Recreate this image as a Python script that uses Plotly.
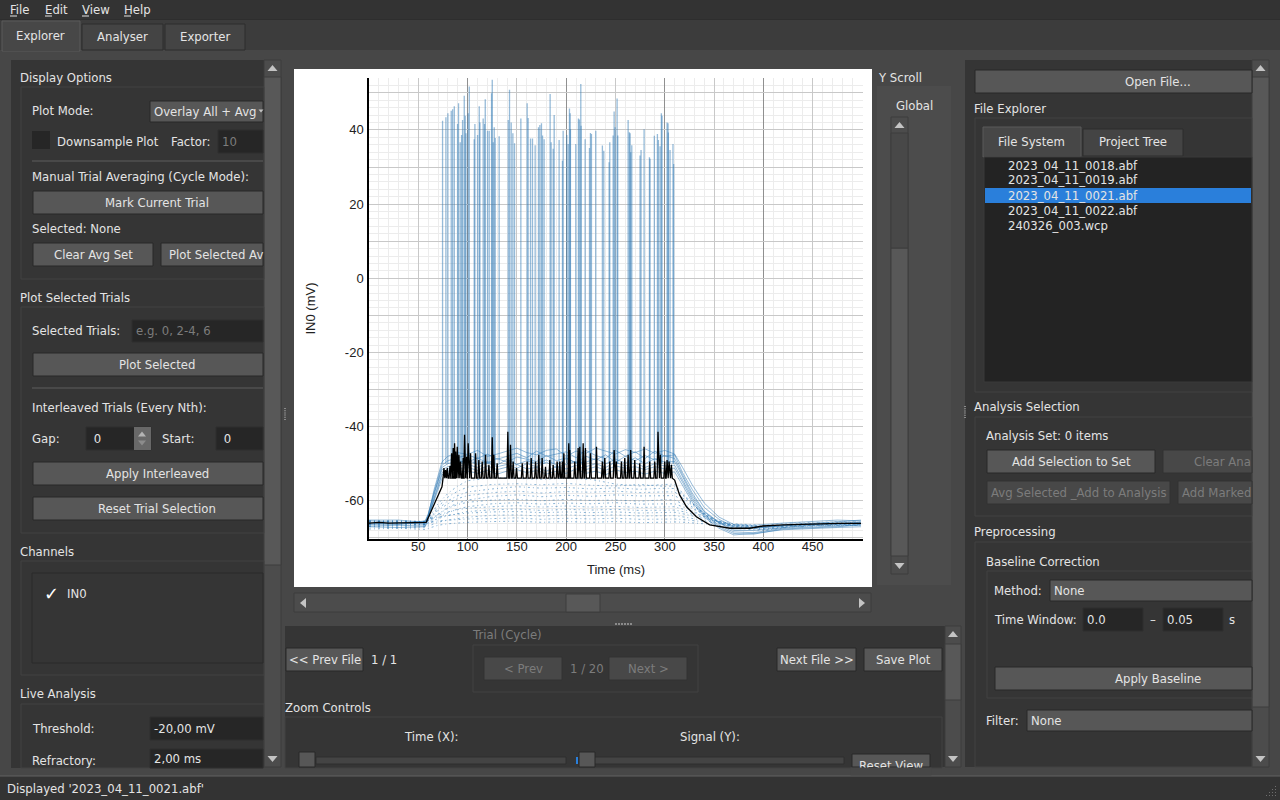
"""
    Electrophysiology explorer window: overlay of 20 trials plus average, inside its dark GUI frame.
"""
##########==========##########==========##########==========##########==========##########==========
## header

import plotly.graph_objects as go

##########==========##########==========##########==========##########==========##########==========
## chart values

x_range = [0, 501]
y_range = [-70.3, 54]
x_ticks = [50, 100, 150, 200, 250, 300, 350, 400, 450]
y_ticks = [-60, -40, -20, 0, 20, 40]
y_tick_text = ['-60', '-40', '-20', '0', '20', '40']

## knots for the trials that stay under threshold
sub_ms = [0, 30, 57, 60, 70, 80, 90, 100, 125, 150, 175, 200, 225, 250, 275, 300, 310, 320, 335, 350, 370, 400, 430, 460, 499]
trial_08 = [-65.5, -65.7, -65.6, -65, -60.8, -58, -56, -54.6, -53.7, -54, -54.2, -53.9, -54.2, -55.5, -56, -55.6, -55.5, -58.5, -62.5, -65.6, -67.3, -67.2, -66.4, -66.2, -65.8]
trial_09 = [-66, -65.9, -66, -65.4, -61.6, -59, -57.4, -56.3, -55.6, -55.4, -55.7, -55.3, -55.8, -56, -55.6, -56.1, -56, -58.8, -62.6, -65.2, -67, -67.6, -66.7, -66.4, -66.1]
trial_10 = [-66.3, -66.1, -66.2, -65.6, -62.2, -60, -58.6, -57.6, -56.8, -56.2, -56.6, -56.4, -56.8, -56.5, -56.9, -56.6, -56.7, -59, -62.4, -65, -67.2, -67.8, -66.9, -66.6, -66.3]
trial_11 = [-65.4, -65.6, -65.7, -65.3, -62.6, -60.8, -59.4, -58.6, -57.8, -57.4, -57.9, -57.5, -57.7, -57.4, -57.8, -57.6, -57.6, -59.6, -62.6, -64.9, -66.6, -67.2, -66.2, -65.9, -65.6]
trial_12 = [-66.6, -66.7, -66.5, -66, -63.6, -61.8, -60.6, -59.8, -58.8, -58.4, -58.9, -58.5, -58.8, -58.4, -58.7, -58.5, -58.6, -60.2, -63, -65.3, -67.4, -68, -67, -66.7, -66.5]
trial_13 = [-65.8, -65.6, -65.9, -65.4, -63.6, -62, -61, -60.4, -59.8, -59.6, -60, -59.6, -59.9, -59.8, -60.1, -59.7, -59.8, -61, -63, -65, -66.8, -67.4, -66.6, -66.2, -66]
trial_14 = [-66.9, -67, -66.8, -66.4, -64.6, -63.2, -62.2, -61.6, -60.8, -60.5, -60.9, -60.6, -60.8, -60.5, -60.9, -60.7, -60.8, -61.8, -63.6, -65.4, -67, -67.6, -67, -66.7, -66.6]
trial_15 = [-65.6, -65.9, -65.5, -65.2, -63.9, -63, -62.4, -62, -61.6, -61.3, -61.7, -61.4, -61.7, -61.5, -61.8, -61.6, -61.6, -62.4, -63.8, -65.2, -66.4, -67, -66.3, -66, -65.8]
trial_16 = [-66.1, -66.3, -66.4, -66, -64.8, -64, -63.4, -62.9, -62.4, -62.2, -62.6, -62.3, -62.5, -62.3, -62.6, -62.4, -62.5, -63, -64.2, -65.4, -66.6, -67.2, -66.5, -66.3, -66.1]
trial_17 = [-65.5, -65.3, -65.6, -65.3, -64.4, -63.9, -63.5, -63.3, -63, -62.9, -63.2, -63, -63.2, -63, -63.3, -63.1, -63.1, -63.6, -64.4, -65.4, -66.2, -66.6, -66, -65.7, -65.5]
trial_18 = [-67, -67.3, -67.1, -66.8, -65.8, -65.2, -64.8, -64.4, -63.9, -63.8, -64.1, -63.8, -64, -63.8, -64.1, -63.9, -64, -64.4, -65, -65.8, -66.6, -67, -66.6, -66.4, -66.2]
trial_19 = [-66.4, -66.5, -66.3, -66, -65.4, -65.2, -65, -64.9, -64.8, -64.6, -65, -64.7, -64.9, -64.7, -65, -64.8, -64.9, -65.1, -65.5, -66, -66.5, -66.8, -66.4, -66.1, -66]
trial_20 = [-67.6, -67.4, -67.7, -67.4, -66.6, -66.2, -66, -65.8, -65.6, -65.5, -65.8, -65.6, -65.8, -65.6, -65.9, -65.7, -65.7, -65.8, -66, -66.4, -66.8, -67, -66.8, -66.6, -66.4]
sub_trials = [trial_08, trial_09, trial_10, trial_11, trial_12, trial_13, trial_14, trial_15, trial_16, trial_17, trial_18, trial_19, trial_20]

## knots for the spiking trials, spikes are kept apart below
spk_ms = [0, 30, 57, 60, 66, 74, 80, 90, 100, 110, 120, 130, 140, 150, 160, 170, 180, 190, 200, 210, 220, 230, 240, 250, 260, 270, 280, 290, 300, 310, 318, 328, 340, 355, 370, 390, 420, 450, 475, 499]
trial_01 = [-66.4, -66.2, -66.1, -64, -57, -49.5, -48, -47, -47.5, -46.4, -48, -47.4, -46.6, -45.8, -47, -47.6, -46.4, -46, -48, -46.6, -47.2, -45.8, -46.6, -47.4, -46.2, -47, -46, -47.2, -46.4, -47.4, -51, -55.8, -60.6, -64.4, -66.4, -66.6, -66, -65.6, -65.2, -65.4]
trial_02 = [-65.4, -65.8, -65.6, -63.8, -57.6, -50.4, -49.2, -48.4, -47.6, -48.6, -47.4, -48.8, -48, -47.2, -48.4, -46.6, -48, -47.4, -46.8, -48.4, -46.4, -47.8, -48.6, -46.4, -48, -46.8, -48.6, -46.6, -48, -47.6, -52.4, -57, -61.8, -65, -67, -67.2, -66.6, -66, -65.6, -65.2]
trial_03 = [-66.8, -66.6, -66.8, -64.8, -58.4, -51, -50, -49.2, -49.6, -48.4, -49.8, -48.6, -49.6, -48.2, -48.8, -49.4, -47.8, -49.2, -48.4, -49.8, -48, -49, -47.6, -49.6, -48, -49.2, -47.8, -49, -47.8, -48.6, -53, -58, -62.8, -65.8, -67.6, -67.4, -66.8, -66.4, -66.2, -65.8]
trial_04 = [-65.9, -66.4, -65.4, -63.6, -58, -51.6, -50.8, -50, -49, -50.2, -49.4, -50.4, -48.8, -50.2, -49.2, -50, -49, -50.4, -48.6, -49.8, -49.6, -48.6, -50, -48.8, -49.8, -48.4, -50, -48.6, -49.6, -49.4, -53.6, -58.6, -63, -66, -68, -68, -67.2, -66.6, -66.4, -66.2]
trial_05 = [-67, -67.2, -67, -65, -59.2, -52.4, -51.4, -50.6, -50.2, -51, -49.8, -50.8, -50.2, -51.2, -50, -50.8, -49.6, -51, -50.2, -49.4, -50.8, -50, -51, -49.6, -50.6, -49.8, -51, -50, -50.6, -50.4, -54.4, -59.2, -63.6, -66.6, -68.4, -68.6, -67.4, -67, -66.8, -66.6]
trial_06 = [-66.2, -65.9, -66.4, -64.2, -59.6, -53, -52, -51.4, -51, -51.8, -50.6, -51.6, -51, -50.2, -51.4, -51, -52, -50.8, -51.4, -50.4, -51.6, -50.8, -51.8, -50.6, -51.2, -50.8, -51.6, -50.8, -51.4, -51.2, -55, -59.8, -64, -67, -68.8, -69, -67.6, -67.2, -67, -66.4]
trial_07 = [-65.2, -65.2, -65.8, -64.4, -60, -54, -52.6, -52.4, -52, -52.6, -51.8, -52.8, -52, -51.6, -52.4, -51.8, -52.8, -52, -52.6, -51.4, -52.6, -52, -53, -51.6, -52.4, -52, -52.8, -52, -52.6, -52.2, -56, -60.4, -64.4, -67.4, -69.2, -68.8, -67.8, -67.4, -67.2, -67]
spk_trials = [trial_01, trial_02, trial_03, trial_04, trial_05, trial_06, trial_07]

## spike times and peak voltages
spike_ms = [74.6, 78.0, 80.0, 83.4, 84.8, 86.5, 89.8, 90.8, 92.5, 93.9, 94.9, 96.6, 97.6, 98.3, 100.6, 101.7, 106.7, 107.4, 110.1, 111.8, 112.5, 115.8, 117.2, 117.9, 120.2, 121.9, 124.3, 125.0, 126.0, 127.0, 128.0, 132.0, 141.2, 142.5, 144.2, 145.9, 147.6, 154.0, 160.4, 161.4, 163.8, 165.8, 168.5, 171.9, 173.3, 174.9, 176.0, 177.6, 183.7, 184.7, 186.8, 187.8, 192.8, 196.2, 196.9, 200.6, 202.0, 203.3, 204.0, 204.3, 209.7, 212.4, 213.4, 214.8, 215.1, 219.2, 223.6, 224.6, 225.6, 230.0, 236.7, 238.1, 243.5, 244.2, 247.6, 248.6, 249.6, 251.6, 252.3, 262.8, 264.1, 264.8, 265.4, 266.5, 274.9, 275.9, 279.0, 284.4, 285.0, 289.4, 292.5, 293.5, 295.2, 296.5, 297.2, 302.3, 303.3, 303.6, 305.3, 308.3, 309.0]
spike_mv = [42.5, 43.4, 44.5, 45.2, 45.6, 46.4, 41.6, 47.2, 36.7, 38.6, 42.7, 49.2, 43.8, 39.1, 44.5, 51.7, 37.5, 41.6, 38.6, 46.4, 42.0, 43.1, 41.6, 48.3, 39.8, 39.8, 49.9, 53.5, 36.7, 40.7, 37.8, 38.3, 42.7, 50.8, 42.0, 39.1, 36.4, 43.1, 47.2, 43.2, 37.7, 37.7, 35.9, 40.7, 41.3, 41.8, 38.5, 37.5, 49.7, 36.7, 34.9, 44.0, 37.3, 31.7, 39.8, 38.6, 36.2, 45.8, 44.5, 40.2, 36.2, 43.1, 42.8, 52.4, 41.1, 37.5, 35.1, 39.2, 38.9, 39.8, 35.8, 34.4, 31.3, 36.7, 38.5, 45.0, 40.7, 48.5, 38.5, 42.7, 39.4, 39.1, 34.0, 35.9, 33.1, 34.6, 40.2, 32.6, 32.2, 38.4, 38.9, 37.3, 35.6, 44.5, 43.8, 42.0, 41.8, 39.3, 34.6, 36.2, 30.8]
spike_foot_mv = -50

## average trace: onset, bumps on the floor, offset
avg_rise_ms = [0, 10, 20, 30, 40, 50, 58, 62, 66, 70, 74]
avg_rise_mv = [-66, -65.8, -66, -65.9, -66, -65.9, -65.8, -63.4, -61, -58.8, -56.2]
avg_peak_ms = [76.0, 77.7, 79.4, 82.1, 83.8, 85.4, 86.8, 87.8, 89.5, 91.2, 92.9, 95.6, 96.9, 99, 100.6, 103, 108.1, 111.4, 114.8, 118.2, 121.6, 125, 126.6, 130, 140.8, 143.5, 146.2, 149.6, 155.4, 160.4, 164.5, 168.9, 172.2, 175.6, 179, 183.4, 186.8, 190.8, 193.5, 196.2, 197.6, 202.6, 203.6, 208.7, 212.1, 213.8, 217.2, 219.5, 224.6, 230.7, 236.7, 239.1, 244.2, 248.6, 250.9, 256, 259.4, 262.8, 265.4, 269.5, 274.6, 279, 284.7, 289.8, 293.1, 295.5, 299.9, 302.3, 304.3, 306.7]
avg_peak_mv = [-51.2, -51.7, -51.2, -50.6, -47.2, -45.8, -44.5, -46.7, -45.4, -47.6, -49.4, -48.5, -42.2, -48.1, -44.5, -47.2, -47.2, -49, -49.4, -47.6, -50.3, -42.9, -47.6, -49.9, -41.4, -44.9, -49.4, -51.2, -49.9, -49.4, -48.5, -49.4, -47.6, -48.5, -50.8, -49, -50.3, -49.4, -49.4, -49.4, -47.2, -44.5, -46.3, -49.4, -45.8, -45.4, -44.5, -45.8, -47.2, -45.4, -49.4, -48.5, -49.4, -46.3, -49.4, -49.4, -48.5, -47.6, -46.3, -49, -49.9, -45.4, -49.4, -49.4, -41.4, -47.6, -49.4, -49, -49.4, -50.3]
avg_floor_mv = -53.9
avg_fall_ms = [310, 315, 322, 332, 345.5, 366, 386, 399.5, 420, 443, 477, 499]
avg_fall_mv = [-54.4, -58.4, -61.6, -64.3, -66.5, -67.4, -67.4, -66.8, -66.5, -66.3, -66.1, -66.1]

##########==========##########==========##########==========##########==========##########==========
## gui parameters

W, H = 1280, 800
UI_FONT = 'DejaVu Sans'
PLOT_FONT = 'Liberation Sans'
TXT = '#e4e4e4'
DIM = '#7c7c7c'
BG = '#474747'
PANEL = '#353535'
BTN = '#575757'
BTN_OFF = '#484848'
EDGE = '#2b2b2b'
BOX = '#424242'
FIELD = '#262626'
SCROLL = '#585858'
TROUGH = '#4c4c4c'
SUB_TRACE = 'rgba(45,120,180,0.55)'
SPK_TRACE = 'rgba(45,120,180,0.5)'

shapes = []
labels = []


def rect(x0, y0, x1, y1, fill, line = None, width = 1):
    shapes.append(dict(
        type = 'rect', xref = 'paper', yref = 'paper', layer = 'below',
        x0 = x0 / W, x1 = x1 / W, y0 = 1 - y0 / H, y1 = 1 - y1 / H,
        fillcolor = fill, line = dict(color = line if line else fill, width = width if line else 0)
    ))


def hline(x0, x1, y, color, width = 1):
    shapes.append(dict(
        type = 'line', xref = 'paper', yref = 'paper', layer = 'below',
        x0 = x0 / W, x1 = x1 / W, y0 = 1 - y / H, y1 = 1 - y / H,
        line = dict(color = color, width = width)
    ))


def tri(x, y, size, color, direction):
    ## small scroll arrow drawn as a path in paper units
    a, b = size / W, size / H
    cx, cy = x / W, 1 - y / H
    points = dict(
        up = [(cx - a, cy - b * 0.6), (cx + a, cy - b * 0.6), (cx, cy + b * 0.6)],
        down = [(cx - a, cy + b * 0.6), (cx + a, cy + b * 0.6), (cx, cy - b * 0.6)],
        left = [(cx + a * 0.6, cy - b), (cx + a * 0.6, cy + b), (cx - a * 0.6, cy)],
        right = [(cx - a * 0.6, cy - b), (cx - a * 0.6, cy + b), (cx + a * 0.6, cy)]
    )[direction]
    path = 'M' + ' L'.join(f'{p[0]:.5f},{p[1]:.5f}' for p in points) + ' Z'
    shapes.append(dict(
        type = 'path', xref = 'paper', yref = 'paper', layer = 'below', path = path,
        fillcolor = color, line = dict(width = 0)
    ))


def text(x, y, s, color = TXT, anchor = 'left', size = 11.7, font = UI_FONT):
    labels.append(dict(
        x = x / W, y = 1 - (y + 0.5) / H, xref = 'paper', yref = 'paper', text = s, showarrow = False,
        xanchor = anchor, yanchor = 'middle', align = anchor,
        font = dict(family = font, size = size, color = color), borderpad = 0, borderwidth = 0
    ))


def button(x0, y0, x1, y1, s, enabled = True, tx = None, cx = None):
    rect(x0, y0, x1, y1, BTN if enabled else BTN_OFF, '#292929' if enabled else '#333333')
    color = TXT if enabled else DIM
    if tx is None:
        text(cx if cx else (x0 + x1) / 2, (y0 + y1) / 2, s, color, 'center')
    else:
        text(tx, (y0 + y1) / 2, s, color)


def field(x0, y0, x1, y1, s, color = TXT):
    rect(x0, y0, x1, y1, FIELD, '#2e2e2e')
    text(x0 + 4, (y0 + y1) / 2, s, color)


def combo(x0, y0, x1, y1, s):
    rect(x0, y0, x1, y1, BTN, '#292929')
    text(x0 + 4, (y0 + y1) / 2 - 0.5, s)


def vscroll(x0, x1, y0, y1, thumb0, thumb1):
    rect(x0, y0, x1, y1, TROUGH, '#3c3c3c')
    rect(x0, thumb0, x1, thumb1, SCROLL, '#3c3c3c')
    tri((x0 + x1) / 2, y0 + 8, 5, '#c4c4c4', 'up')
    tri((x0 + x1) / 2, y1 - 8, 5, '#c4c4c4', 'down')


##########==========##########==========##########==========##########==========##########==========
## window frame

rect(0, 0, W, 20, '#333333')
hline(0, W, 20, '#2a2a2a')
rect(0, 20, W, 50, '#3c3c3c')
rect(0, 50, W, 776, BG)
rect(0, 776, W, H, '#333333')
hline(0, W, 776, '#626262')
for x, s in [(10, 'File'), (45, 'Edit'), (82, 'View'), (124, 'Help')]:
    text(x, 9.5, s)
    hline(x, x + 7, 16, TXT)
rect(2, 21, 80, 51, BG, '#5a5a5a')
rect(82, 24, 163, 50, '#444444', '#2c2c2c')
rect(165, 24, 245, 50, '#444444', '#2c2c2c')
hline(3, 79, 50, BG, 2)
text(40, 35, 'Explorer', anchor = 'center')
text(122, 36, 'Analyser', anchor = 'center')
text(205, 36, 'Exporter', anchor = 'center')
text(7, 788.5, "Displayed '2023_04_11_0021.abf'")
for i in range(4):
    for j in range(i + 1):
        rect(1276 - j * 3 - 1, 796 - (3 - i) * 3 - 1, 1276 - j * 3, 796 - (3 - i) * 3, '#6e6e6e')

##########==========##########==========##########==========##########==========##########==========
## left panel

rect(11, 60, 264, 768, PANEL)
vscroll(264, 281, 60, 767, 77, 565)

text(20, 77, 'Display Options')
rect(21, 87, 264, 279, PANEL, BOX)
text(32, 110, 'Plot Mode:')
combo(150, 101, 263, 122, 'Overlay All + Avg')
tri(261, 111, 2.5, '#c4c4c4', 'down')
rect(32, 131, 50, 149, '#262626')
text(57, 141, 'Downsample Plot')
text(171, 142, 'Factor:')
field(218, 130, 263, 153, '10', DIM)
hline(32, 263, 161, '#5e5e5e')
text(32, 176.5, 'Manual Trial Averaging (Cycle Mode):')
button(33, 191, 263, 214, 'Mark Current Trial', cx = 157)
text(32, 228, 'Selected: None')
button(33, 243, 153, 266, 'Clear Avg Set')
button(161, 243, 263, 266, 'Plot Selected Av', tx = 169)

text(20, 297.5, 'Plot Selected Trials')
rect(21, 307, 264, 533, PANEL, BOX)
text(32, 331, 'Selected Trials:')
field(132, 320, 263, 342, 'e.g. 0, 2-4, 6', DIM)
button(33, 353, 263, 376, 'Plot Selected', cx = 157)
hline(32, 263, 388, '#5e5e5e')
text(32, 407.5, 'Interleaved Trials (Every Nth):')
text(32, 439, 'Gap:')
field(86, 427, 151, 450, ' 0')
rect(134, 427, 151, 450, '#686868')
tri(142, 434, 4, '#b4b4b4', 'up')
tri(142, 443, 4, '#8c8c8c', 'down')
text(162, 439, 'Start:')
field(216, 427, 263, 450, ' 0')
button(33, 462, 263, 485, 'Apply Interleaved', cx = 157)
button(33, 497, 263, 520, 'Reset Trial Selection', cx = 157)

text(20, 551, 'Channels')
rect(21, 561, 264, 675, PANEL, BOX)
rect(32, 573, 263, 663, PANEL, '#2b2b2b')
text(51, 593, '<b>\u2713</b>', '#ffffff', 'center', 18)
text(67, 593.5, 'IN0')

text(20, 693, 'Live Analysis')
rect(21, 704, 264, 768, PANEL, BOX)
text(32, 728.5, 'Threshold:')
field(150, 717, 263, 740, '-20,00 mV')
text(32, 760.5, 'Refractory:')
field(150, 749, 263, 768, '2,00 ms')
for k in range(6):
    rect(284, 408 + k * 2.2, 286, 409 + k * 2.2, '#8a8a8a')

##########==========##########==========##########==========##########==========##########==========
## centre panel

rect(294, 69, 872, 587, '#ffffff')

rect(294, 593, 871, 612, TROUGH, '#3c3c3c')
rect(566, 594, 600, 612, SCROLL, '#3c3c3c')
tri(303, 603, 5, '#c4c4c4', 'left')
tri(862, 603, 5, '#c4c4c4', 'right')

text(878, 77, 'Y Scroll')
rect(877, 86, 951, 585, '#4c4c4c')
text(896, 106, 'Global')
vscroll(891, 908, 117, 574, 248, 556)
rect(891, 133, 908, 248, '#484848', '#3c3c3c')

for k in range(6):
    rect(615 + k * 3, 623, 617 + k * 3, 625, '#8a8a8a')

rect(285, 626, 945, 767, PANEL)
vscroll(945, 961, 626, 767, 644, 700)
button(286, 648, 363, 671, '<< Prev File')
text(371, 659.5, '1 / 1')
text(472, 634, 'Trial (Cycle)', DIM)
rect(473, 645, 698, 692, PANEL, BOX)
button(484, 657, 562, 680, '< Prev', enabled = False)
text(570, 668.5, '1 / 20', DIM)
button(609, 657, 687, 680, 'Next >', enabled = False)
button(777, 648, 856, 671, 'Next File >>')
button(864, 648, 942, 671, 'Save Plot')
text(285, 707, 'Zoom Controls')
rect(285, 717, 942, 768, PANEL, BOX)
text(431, 736, 'Time (X):', anchor = 'center')
text(710, 736, 'Signal (Y):', anchor = 'center')
rect(316, 757, 566, 764, '#444444', '#2e2e2e')
rect(590, 757, 844, 764, '#444444', '#2e2e2e')
rect(576, 757, 578, 764, '#2a7fdb')
rect(299, 752, 315, 767, BTN, '#292929')
rect(579, 752, 595, 767, BTN, '#292929')
rect(852, 754, 930, 767, BTN, '#292929')
text(891, 765, 'Reset View', anchor = 'center')
## cover that clips the lower edge of the button caption at the frame
labels.append(dict(
    x = 891 / W, y = 1 - 771.5 / H, xref = 'paper', yref = 'paper', text = ' ', showarrow = False,
    width = 80, height = 7, bgcolor = BG, borderpad = 0, xanchor = 'center', yanchor = 'middle'
))

##########==========##########==========##########==========##########==========##########==========
## right panel

rect(965, 60, 1252, 767, PANEL)
vscroll(1252, 1269, 60, 767, 77, 707)
for k in range(6):
    rect(964, 406 + k * 2.2, 966, 407 + k * 2.2, '#8a8a8a')

button(975, 70, 1252, 93, 'Open File...', tx = 1125)
text(974, 108, 'File Explorer')
rect(975, 118, 1252, 392, PANEL, BOX)
rect(983, 127, 1081, 157, BG, '#5a5a5a')
rect(1083, 129, 1183, 156, '#444444', '#2c2c2c')
text(1031, 141, 'File System', anchor = 'center')
text(1133, 142, 'Project Tree', anchor = 'center')
rect(984, 157, 1252, 382, '#232323', '#3a3a3a')
rect(985, 188, 1251, 203, '#2a7fdb')
file_names = ['2023_04_11_0018.abf', '2023_04_11_0019.abf', '2023_04_11_0021.abf', '2023_04_11_0022.abf', '240326_003.wcp']
for k, s in enumerate(file_names):
    text(1008, 165 + k * 15, s)

text(974, 406, 'Analysis Selection')
rect(975, 417, 1252, 516, PANEL, BOX)
text(986, 435, 'Analysis Set: 0 items')
button(987, 450, 1155, 473, 'Add Selection to Set')
button(1163, 450, 1252, 473, 'Clear Ana', enabled = False, tx = 1194)
button(987, 481, 1170, 504, 'Avg Selected _Add to Analysis', enabled = False)
button(1178, 481, 1252, 504, 'Add Marked', enabled = False, tx = 1182)

text(974, 531, 'Preprocessing')
rect(975, 542, 1252, 767, PANEL, BOX)
text(986, 561, 'Baseline Correction')
rect(987, 571, 1252, 698, PANEL, BOX)
text(994, 590.5, 'Method:')
combo(1050, 580, 1252, 601, 'None')
text(994, 619, 'Time Window:')
field(1083, 608, 1143, 631, '0.0')
text(1150, 619, '\u2013')
field(1163, 608, 1223, 631, '0.05')
text(1229, 619, 's')
button(995, 667, 1252, 690, 'Apply Baseline', tx = 1115)
text(986, 720.5, 'Filter:')
combo(1027, 710, 1252, 731, 'None')

##########==========##########==========##########==========##########==========##########==========
## traces

fig = go.Figure()

for trial in sub_trials:
    fig.add_trace(go.Scatter(
        x = sub_ms, y = trial, mode = 'lines', showlegend = False, hoverinfo = 'skip',
        line = dict(color = SUB_TRACE, width = 1, dash = '2px,3px,1px,3px')
    ))

for k, trial in enumerate(spk_trials):
    fig.add_trace(go.Scatter(
        x = spk_ms, y = trial, mode = 'lines', showlegend = False, hoverinfo = 'skip',
        line = dict(color = SPK_TRACE, width = 1)
    ))
    xs, ys = [], []
    for t, v in list(zip(spike_ms, spike_mv))[k::len(spk_trials)]:
        xs += [t, t, None]
        ys += [spike_foot_mv, v, None]
    fig.add_trace(go.Scatter(
        x = xs, y = ys, mode = 'lines', showlegend = False, hoverinfo = 'skip',
        line = dict(color = SPK_TRACE, width = 1.3)
    ))

avg_ms, avg_mv = list(avg_rise_ms), list(avg_rise_mv)
for t, v in zip(avg_peak_ms, avg_peak_mv):
    avg_ms += [t - 0.9, t, t + 0.9]
    avg_mv += [avg_floor_mv, v, avg_floor_mv]
avg_ms += avg_fall_ms
avg_mv += avg_fall_mv
fig.add_trace(go.Scatter(
    x = avg_ms, y = avg_mv, mode = 'lines', showlegend = False, hoverinfo = 'skip',
    line = dict(color = 'black', width = 1.3)
))

## empty trace so the overlay axes that carry the third grid level get drawn
fig.add_trace(go.Scatter(
    x = [None], y = [None], xaxis = 'x2', yaxis = 'y2', showlegend = False, hoverinfo = 'skip'
))

##########==========##########==========##########==========##########==========##########==========
## layout

x_domain = [369 / W, 863 / W]
y_domain = [1 - 539 / H, 1 - 78 / H]
tick_font = dict(family = PLOT_FONT, size = 13, color = '#222222')
title_font = dict(family = PLOT_FONT, size = 13, color = '#222222')

fig.update_layout(
    width = W, height = H, margin = dict(l = 0, r = 0, t = 0, b = 0), autosize = False,
    paper_bgcolor = BG, plot_bgcolor = 'white', showlegend = False,
    shapes = shapes, annotations = labels,
    xaxis = dict(
        domain = x_domain, range = x_range, tickvals = x_ticks, showline = True,
        linecolor = 'black', linewidth = 1.5, zeroline = False, gridcolor = '#c8c8c8', gridwidth = 1,
        ticks = '', ticklen = 0, ticklabelstandoff = -5, tickfont = tick_font,
        minor = dict(dtick = 10, showgrid = True, gridcolor = '#ececec', gridwidth = 1),
        title = dict(text = 'Time (ms)', font = title_font, standoff = 12), automargin = False
    ),
    yaxis = dict(
        domain = y_domain, range = y_range, tickvals = y_ticks, ticktext = y_tick_text, showline = True,
        linecolor = 'black', linewidth = 1.5, zeroline = False, gridcolor = '#8e8e8e', gridwidth = 1,
        ticks = 'outside', ticklen = 1, tickcolor = 'rgba(0,0,0,0)', tickfont = tick_font,
        minor = dict(dtick = 2, showgrid = True, gridcolor = '#ececec', gridwidth = 1),
        title = dict(text = 'IN0 (mV)', font = title_font, standoff = 26), automargin = False
    ),
    xaxis2 = dict(
        overlaying = 'x', range = x_range, domain = x_domain, dtick = 100, tick0 = 0,
        showticklabels = False, zeroline = False, showgrid = True, gridcolor = '#909090', side = 'top', anchor = 'y2'
    ),
    yaxis2 = dict(
        overlaying = 'y', range = y_range, domain = y_domain, dtick = 10, tick0 = 0,
        showticklabels = False, zeroline = False, showgrid = True, gridcolor = '#c8c8c8', side = 'right', anchor = 'x2'
    )
)

fig.write_html("out.html", post_script = "document.body.style.margin='0';document.body.style.overflow='hidden';", config = dict(displayModeBar = False))
